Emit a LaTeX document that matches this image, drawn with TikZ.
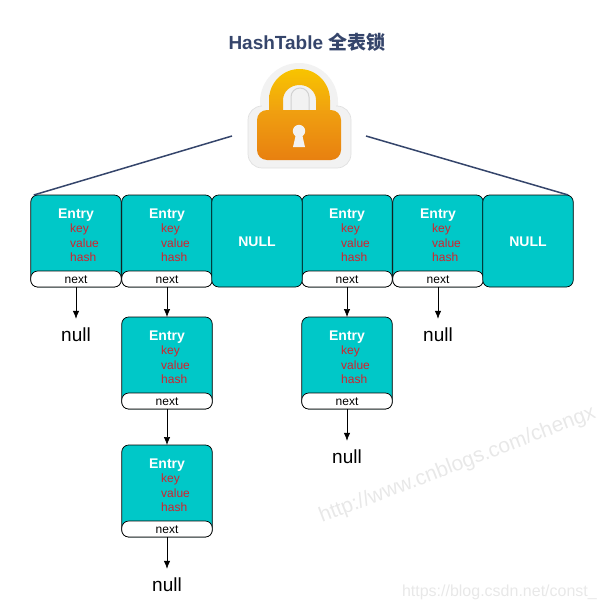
\documentclass[tikz,border=0pt]{standalone}
\usepackage{fontspec}
\usepackage{xcolor}
\usetikzlibrary{arrows.meta, positioning}
\setmainfont{Liberation Sans}
\newfontfamily\cjk{Noto Sans CJK SC}
\definecolor{entrycyan}{RGB}{0,200,200}
\definecolor{linenavy}{RGB}{53,69,107}
\definecolor{fieldred}{RGB}{214,32,44}
\definecolor{markgray}{RGB}{232,232,232}
\definecolor{lockyellow}{RGB}{248,196,0}
\definecolor{lockmid}{RGB}{240,160,16}
\definecolor{lockdark}{RGB}{232,128,16}
\def\fs#1{\fontsize{#1}{#1}\selectfont}

\begin{document}
\begin{tikzpicture}[x=1pt,y=-1pt,>={Latex[length=8pt,width=6.5pt]}]
    \tikzstyle{slot}=[draw=black, fill=entrycyan, rounded corners=7pt, line width=.7pt, inner sep=0pt, outer sep=0pt, minimum width=90.5pt, minimum height=92pt]
    \tikzstyle{next box}=[draw=black, fill=white, rounded corners=7pt, line width=.7pt, inner sep=0pt, outer sep=0pt, minimum width=90.5pt, minimum height=16pt]
    \tikzstyle{head}=[text=white, inner sep=0pt, font=\fs{14}\bfseries]
    \tikzstyle{field}=[text=fieldred, anchor=west, inner sep=0pt, font=\fs{12}]
    \tikzstyle{null text}=[inner sep=0pt, minimum height=32pt, font=\fs{19}]
    \tikzstyle{link}=[->, draw=black, line width=.7pt]
    \tikzstyle{roof}=[draw=linenavy, line width=1.5pt]
    \tikzstyle{watermark}=[text=markgray, inner sep=0pt]

    \useasboundingbox (0,0) rectangle (605,610);

    \node[watermark, rotate=21, font=\fs{21}, anchor=base west] (M-1) at (322,523) {http://www.cnblogs.com/chengx};
    \node[watermark, font=\fs{16}, anchor=east] (M-2) at (597,592) {https://blog.csdn.net/const\_};

    \node[text=linenavy, inner sep=0pt, font=\fs{19}\bfseries] (title) at (307,42) {HashTable {\cjk 全表锁}};

    % lock
    \fill[black!5] (260,115) -- (260,102) arc (180:360:39 and 39) -- (338,115) -- cycle;
    \draw[draw=black!12, fill=black!5, line width=.7pt, rounded corners=14pt]
        (248,106) rectangle (351,168);
    \fill[black!5] (262,104) rectangle (336,112);
    \shade[top color=lockyellow, bottom color=lockmid, even odd rule]
        (269,112) -- (269,100) arc (180:360:30.5 and 31) -- (330,112) -- cycle
        (283,112) -- (283,100) arc (180:360:16.5 and 15) -- (316,112) -- cycle;
    \draw[draw=black!18, line width=1pt] (291,110) -- (291,97) arc (180:360:9) -- (309,110);
    \shade[top color=lockmid, bottom color=lockdark, rounded corners=10pt]
        (257,110) rectangle (341,160);
    \fill[black!5] (299,131) circle (6.2);
    \fill[black!5] (296,134) -- (302,134) -- (305,147) -- (293,147) -- cycle;

    \coordinate (lockL) at (232,136);
    \coordinate (lockR) at (366,136);

    % top row, then the chained ones
    \foreach \name/\x/\y in {A/76/241,B/167/241,D/347/241,E/438/241,F/167/363,G/167/491,H/347/363}{
        \node[slot] (S-\name) at (\x,\y) {};
        \node[next box] (N-\name) at (\x,\y+38) {};
        \node[inner sep=0pt, font=\fs{12}] (L-\name) at (\x,\y+39) {next};
        \node[head] (T-\name) at (\x,\y-26) {Entry};
        \node[field] (K-\name) at (\x-6,\y-12) {key};
        \node[field] (V-\name) at (\x-6,\y+2) {value};
        \node[field] (H-\name) at (\x-6,\y+16) {hash};
    }
    \foreach \name/\x in {C/257,I/528}{
        \node[slot] (S-\name) at (\x,241) {};
        \node[head] (T-\name) at (\x,242) {NULL};
    }

    \node[null text] (null-A) at (76,335) {null};
    \node[null text] (null-E) at (438,335) {null};
    \node[null text] (null-H) at (347,457) {null};
    \node[null text] (null-G) at (167,585) {null};

    \path[link] (N-A) edge (null-A);
    \path[link] (N-B) edge (S-F);
    \path[link] (N-F) edge (S-G);
    \path[link] (N-G) edge (null-G);
    \path[link] (N-D) edge (S-H);
    \path[link] (N-H) edge (null-H);
    \path[link] (N-E) edge (null-E);

    \draw[roof] (lockL) -- ([xshift=3pt]S-A.north west);
    \draw[roof] (lockR) -- ([xshift=-5pt]S-I.north east);
\end{tikzpicture}
\end{document}
